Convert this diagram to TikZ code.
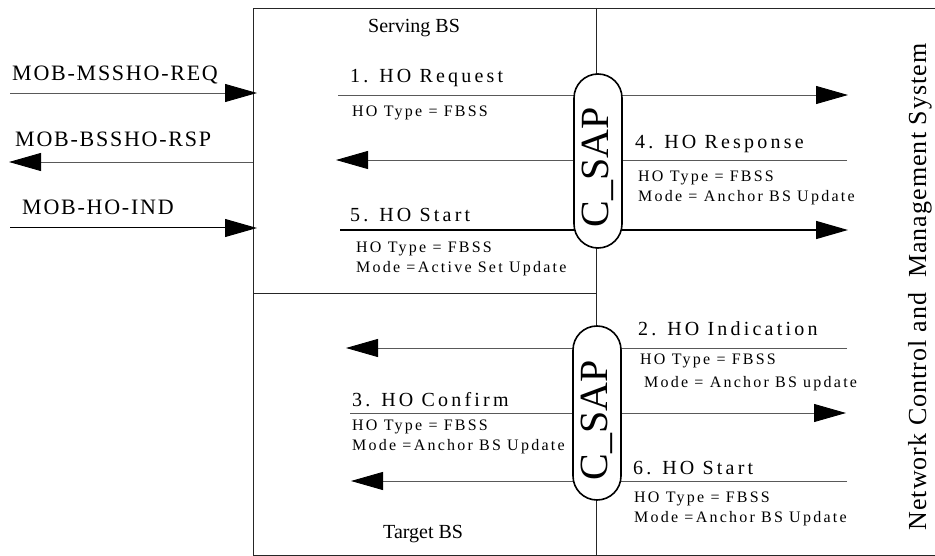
\documentclass[tikz,border=0pt]{standalone}
\usepackage{fontspec}
\setmainfont{Liberation Serif}
\newfontfamily\stepfont[LetterSpace=16]{Liberation Serif}
\newfontfamily\parfont[LetterSpace=14]{Liberation Serif}
\newfontfamily\mobfont[LetterSpace=8]{Liberation Serif}
\newfontfamily\ncfont[LetterSpace=4]{Liberation Serif}
\newfontfamily\sapfont{Liberation Serif}
\usetikzlibrary{arrows.meta}
\begin{document}
\begin{tikzpicture}[x=1bp,y=-1bp,
  msg/.style={draw=black!65, line width=0.8bp, -{Triangle[length=32bp,width=18bp,color=black,fill=black]}},
  frame/.style={draw=black!85, line width=0.9bp},
  steplbl/.style={anchor=base west, inner sep=0, font=\stepfont\fontsize{20bp}{24bp}\selectfont},
  parlbl/.style={anchor=base west, inner sep=0, font=\parfont\fontsize{16bp}{19bp}\selectfont},
  moblbl/.style={anchor=base west, inner sep=0, font=\mobfont\fontsize{22bp}{26bp}\selectfont},
  bslbl/.style={anchor=base west, inner sep=0, font=\fontsize{20bp}{24bp}\selectfont},
  sap/.style={draw, line width=1.6bp, fill=white, rounded corners=24bp,
    minimum width=48bp, minimum height=174bp, inner sep=0},
  saptext/.style={rotate=90, inner sep=0, font=\sapfont\fontsize{40bp}{44bp}\selectfont},
]
\useasboundingbox (0,0) rectangle (935,556);
\fill[white] (0,0) rectangle (935,556);

% frame
\coordinate (tl) at (253,8);
\coordinate (tr) at (940,8);
\coordinate (bl) at (253,555);
\coordinate (br) at (940,555);
\coordinate (vt) at (596,8);
\coordinate (vb) at (596,555);
\coordinate (hl) at (253,293);
\coordinate (hr) at (596,293);
\draw[frame] (tr) -- (tl) -- (bl) -- (br);
\draw[frame] (vt) -- (vb);
\draw[frame] (hl) -- (hr);

% MS side messages
\coordinate (m1s) at (10,93);  \coordinate (m1e) at (257,93);
\coordinate (m2s) at (253,162); \coordinate (m2e) at (9,162);
\coordinate (m3s) at (10,228); \coordinate (m3e) at (257,228);
\draw[msg] (m1s) -- (m1e);
\draw[msg] (m2s) -- (m2e);
\draw[msg,draw=black,line width=1bp] (m3s) -- (m3e);
\node[moblbl] (mob1) at (12,81) {MOB-MSSHO-REQ};
\node[moblbl] (mob2) at (15,147) {MOB-BSSHO-RSP};
\node[moblbl] (mob3) at (22,215) {MOB-HO-IND};

% serving BS messages
\coordinate (r1s) at (338,95);  \coordinate (r1e) at (848,95);
\coordinate (r2s) at (847,160); \coordinate (r2e) at (336,160);
\coordinate (r3s) at (340,230); \coordinate (r3e) at (848,230);
\draw[msg] (r1s) -- (r1e);
\draw[msg] (r2s) -- (r2e);
\draw[msg,draw=black,line width=1.4bp] (r3s) -- (r3e);

% target BS messages
\coordinate (t1s) at (847,348); \coordinate (t1e) at (346,348);
\coordinate (t2s) at (350,413); \coordinate (t2e) at (846,413);
\coordinate (t3s) at (847,481); \coordinate (t3e) at (351,481);
\draw[msg] (t1s) -- (t1e);
\draw[msg] (t2s) -- (t2e);
\draw[msg] (t3s) -- (t3e);

% labels serving
\node[bslbl] (sbs) at (368,33) {Serving BS};
\node[steplbl] (s1) at (350,83) {1. HO Request};
\node[parlbl] (s1a) at (352,117) {HO Type = FBSS};
\node[steplbl] (s5) at (350,222) {5. HO Start};
\node[parlbl] (s5a) at (356,253) {HO Type = FBSS};
\node[parlbl] (s5b) at (356,273) {Mode =Active Set Update};
\node[steplbl] (s4) at (635,149) {4. HO Response};
\node[parlbl] (s4a) at (638,182) {HO Type = FBSS};
\node[parlbl] (s4b) at (638,202) {Mode = Anchor BS Update};

% labels target
\node[steplbl] (s2) at (638,336) {2. HO Indication};
\node[parlbl] (s2a) at (640,365) {HO Type = FBSS};
\node[parlbl] (s2b) at (644,387) {Mode = Anchor BS update};
\node[steplbl] (s3) at (352,406) {3. HO Confirm};
\node[parlbl] (s3a) at (352,430) {HO Type = FBSS};
\node[parlbl] (s3b) at (352,450) {Mode =Anchor BS Update};
\node[steplbl] (s6) at (633,474) {6. HO Start};
\node[parlbl] (s6a) at (634,502) {HO Type = FBSS};
\node[parlbl] (s6b) at (634,522) {Mode =Anchor BS Update};
\node[bslbl] (tbs) at (383,538) {Target BS};

% C_SAP capsules
\node[sap] (sap1) at (598,161) {};
\node[saptext] (sap1t) at (598,167) {C\_SAP};
\node[sap] (sap2) at (597,413) {};
\node[saptext] (sap2t) at (597,420) {C\_SAP};

% NCMS
\node[rotate=90, anchor=base, inner sep=0, font=\ncfont\fontsize{26bp}{30bp}\selectfont] (ncms) at (926,287) {Network Control and\ \ Management System};
\end{tikzpicture}
\end{document}
